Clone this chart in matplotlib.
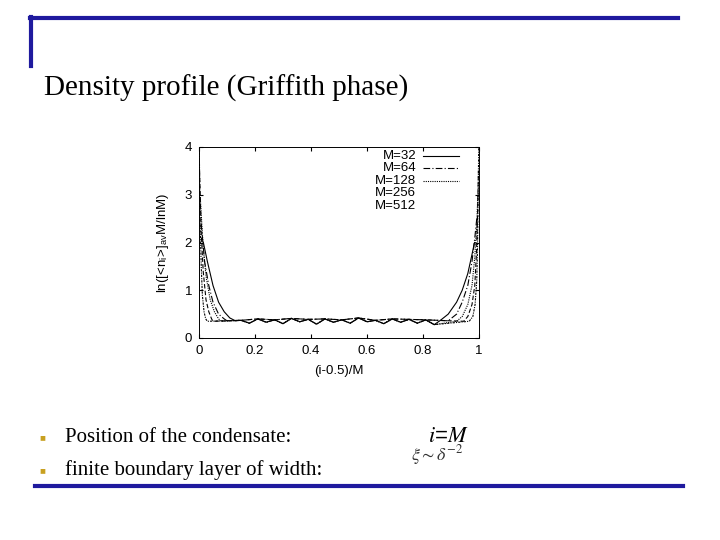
import matplotlib
matplotlib.use("Agg")
import matplotlib.pyplot as plt
from matplotlib.lines import Line2D

plt.rcParams["mathtext.fontset"] = "stix"
plt.rcParams["font.family"] = ["Liberation Sans", "DejaVu Sans"]

labels = ["M=32", "M=64", "M=128", "M=256", "M=512"]
styles = ["-", (0, (6, 2, 1, 2)), (0, (1, 1)), (0, (4, 2)), (0, (2, 1, 1, 1))]
left_x = [
    [0.0156, 0.03, 0.05, 0.07, 0.09, 0.11, 0.13],
    [0.0078, 0.02, 0.035, 0.05, 0.07, 0.09, 0.10],
    [0.0039, 0.015, 0.025, 0.04, 0.055, 0.07, 0.08],
    [0.002, 0.008, 0.015, 0.025, 0.035, 0.045, 0.05],
    [0.001, 0.004, 0.008, 0.012, 0.018, 0.024, 0.03],
]
left_y = [
    [2.0, 1.6, 1.1, 0.75, 0.55, 0.42, 0.36],
    [2.4, 1.6, 1.1, 0.75, 0.5, 0.4, 0.36],
    [3.0, 1.9, 1.3, 0.8, 0.55, 0.4, 0.35],
    [3.5, 2.2, 1.4, 0.8, 0.55, 0.4, 0.35],
    [4.0, 2.4, 1.5, 0.9, 0.55, 0.4, 0.35],
]
right_x = [
    [0.86, 0.89, 0.92, 0.94, 0.96, 0.975, 0.984],
    [0.89, 0.92, 0.94, 0.96, 0.975, 0.985, 0.992],
    [0.92, 0.94, 0.96, 0.975, 0.985, 0.992, 0.996],
    [0.945, 0.96, 0.975, 0.985, 0.991, 0.995, 0.998],
    [0.965, 0.978, 0.986, 0.992, 0.995, 0.997, 0.999],
]
right_y = [
    [0.36, 0.5, 0.75, 1.0, 1.35, 1.75, 2.0],
    [0.36, 0.5, 0.75, 1.1, 1.6, 2.1, 2.5],
    [0.35, 0.45, 0.7, 1.1, 1.7, 2.4, 3.0],
    [0.35, 0.45, 0.7, 1.1, 1.8, 2.6, 3.5],
    [0.35, 0.45, 0.7, 1.2, 2.0, 3.0, 4.0],
]
plateau_x = [0.15, 0.18, 0.21, 0.24, 0.27, 0.30, 0.33, 0.36, 0.39, 0.42, 0.45, 0.48,
             0.51, 0.54, 0.57, 0.60, 0.63, 0.66, 0.69, 0.72, 0.75, 0.78, 0.81, 0.84]
plateau_y = [0.37, 0.31, 0.40, 0.33, 0.38, 0.30, 0.41, 0.34, 0.39, 0.29, 0.40, 0.33,
             0.38, 0.31, 0.42, 0.34, 0.37, 0.30, 0.40, 0.33, 0.39, 0.31, 0.38, 0.28]

fig = plt.figure(figsize=(7.2, 5.4), dpi=100)
blue = "#1f1a9e"
fig.add_artist(Line2D([30/720, 678/720], [1-18/540, 1-18/540], color=blue, lw=3))
fig.add_artist(Line2D([31/720, 31/720], [1-17/540, 1-66/540], color=blue, lw=3))
fig.add_artist(Line2D([35/720, 683/720], [1-486/540, 1-486/540], color=blue, lw=3))
fig.text(44/720, 1-88/540, "Density profile (Griffith phase)", family="Liberation Serif",
         fontsize=21, va="center")
for yy, t in [(437, "Position of the condensate:"), (470, "finite boundary layer of width:")]:
    fig.text(42/720, 1-yy/540, "\u25a0", color="#c8a020", fontsize=7, va="center", ha="center")
    fig.text(65/720, 1-yy/540, t, family="Liberation Serif", fontsize=15, va="center")
fig.text(448/720, 1-437/540, "$i$=$M$", fontsize=16, va="center", ha="center")
fig.text(437/720, 1-455/540, r"$\xi \sim \delta^{-2}$", fontsize=13, va="center", ha="center", color="#333")

ax = fig.add_axes([199/720, 1-338/540, 280/720, 191/540])
for i in range(5):
    xs = left_x[i] + plateau_x[::(i % 2) + 1] + right_x[i]
    ys = left_y[i] + plateau_y[::(i % 2) + 1] + right_y[i]
    ax.plot(xs, ys, color="black", lw=0.8, linestyle=styles[i])
ax.set_xlim(0, 1)
ax.set_ylim(0, 4)
ax.set_xticks([0, 0.2, 0.4, 0.6, 0.8, 1])
ax.set_xticklabels(["0", "0.2", "0.4", "0.6", "0.8", "1"])
ax.set_yticks([0, 1, 2, 3, 4])
for s in ax.spines.values():
    s.set_linewidth(0.7)
ax.tick_params(labelsize=9.5, direction="in", length=3, top=True, right=True, pad=5)
ax.set_xlabel("(i-0.5)/M", fontsize=9.5, labelpad=6)
ax.set_ylabel(r"ln([<n$_\mathregular{i}$>]$_\mathregular{av}$M/lnM)", fontsize=9.5, labelpad=10)
for i, lab in enumerate(labels):
    yy = 0.955 - i * 0.066
    ax.text(0.775, yy, lab, transform=ax.transAxes, fontsize=9.5, ha="right", va="center")
    if i < 3:
        ax.plot([0.8, 0.93], [yy, yy], transform=ax.transAxes, color="black",
                lw=0.8, linestyle=styles[i])
fig.savefig("out.png", dpi=100)
